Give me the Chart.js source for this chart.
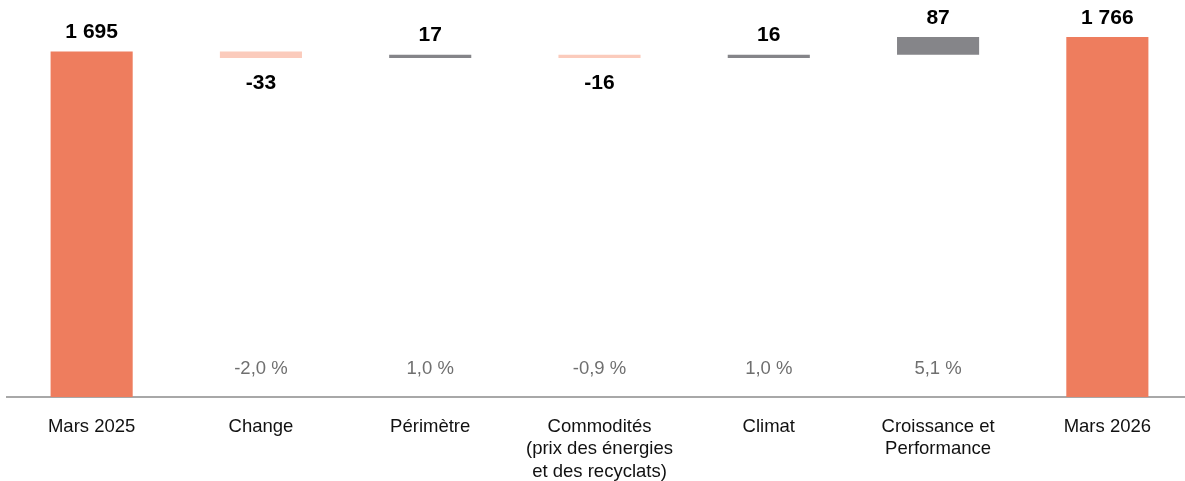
<!DOCTYPE html>
<html>
<head>
<meta charset="utf-8">
<script src="https://cdn.jsdelivr.net/npm/chart.js@4/dist/chart.umd.min.js"></script>
<style>
  html, body { margin: 0; padding: 0; background: #fff; overflow: hidden; }
  #wrap { width: 1192px; height: 481px; }
</style>
</head>
<body>
<div id="wrap"><canvas id="chart" width="1192" height="481"></canvas></div>
<script>
// categories (multi-line labels)
const categories = [
    "Mars 2025",
    "Change",
    "Périmètre",
    ["Commodités", "(prix des énergies", "et des recyclats)"],
    "Climat",
    ["Croissance et", "Performance"],
    "Mars 2026"
];

// first and last are totals, the rest are variations
const values = [1695, -33, 17, -16, 16, 87, 1766];
const valueLabels = ["1 695", "-33", "17", "-16", "16", "87", "1 766"];
const percentLabels = ["", "-2,0 %", "1,0 %", "-0,9 %", "1,0 %", "5,1 %", ""];

// build floating ranges for the waterfall
const ranges = [];
let running = 0;
values.forEach((v, i) => {
    if (i === 0 || i === values.length - 1) {
        ranges.push([0, v]);
        running = v;
    } else {
        ranges.push([running, running + v]);
        running += v;
    }
});

const colors = values.map((v, i) => {
    if (i === 0 || i === values.length - 1) return "#EE7D5E";
    return v < 0 ? "#FBCBBC" : "#858589";
});

// draws the value labels and the percent line
const labelPlugin = {
    id: "labels",
    afterDatasetsDraw(chart) {
        const ctx = chart.ctx;
        const meta = chart.getDatasetMeta(0);
        const area = chart.chartArea;
        ctx.save();
        ctx.textAlign = "center";
        ctx.textBaseline = "middle";
        meta.data.forEach((bar, i) => {
            const top = Math.min(bar.y, bar.base);
            const bottom = Math.max(bar.y, bar.base);
            ctx.fillStyle = "#000";
            ctx.font = "bold 21px 'Liberation Sans', Arial, sans-serif";
            if (values[i] < 0) {
                ctx.fillText(valueLabels[i], bar.x, bottom + 25);
            } else {
                ctx.fillText(valueLabels[i], bar.x, top - 19);
            }
            if (percentLabels[i]) {
                ctx.fillStyle = "#6f6f6f";
                ctx.font = "18.5px 'Liberation Sans', Arial, sans-serif";
                ctx.fillText(percentLabels[i], bar.x, area.bottom - 28);
            }
        });
        ctx.restore();
    }
};

new Chart(document.getElementById("chart"), {
    type: "bar",
    data: {
        labels: categories,
        datasets: [{
            data: ranges,
            backgroundColor: colors,
            borderWidth: 0,
            borderSkipped: false,
            categoryPercentage: 1,
            barPercentage: 0.485
        }]
    },
    options: {
        responsive: false,
        animation: false,
        layout: { padding: { left: 7, right: 0, top: 0, bottom: 0 } },
        plugins: {
            legend: { display: false },
            tooltip: { enabled: false }
        },
        scales: {
            x: {
                grid: { display: false, drawTicks: false },
                border: { display: true, color: "#a8a8a8", width: 2 },
                ticks: {
                    color: "#111",
                    padding: 19,
                    maxRotation: 0,
                    autoSkip: false,
                    font: { family: "'Liberation Sans', Arial, sans-serif", size: 18.5, lineHeight: 1.2 }
                },
                afterFit(scale) { scale.height = 84; }
            },
            y: {
                display: false,
                min: 0,
                max: 1947
            }
        }
    },
    plugins: [labelPlugin]
});
</script>
</body>
</html>
